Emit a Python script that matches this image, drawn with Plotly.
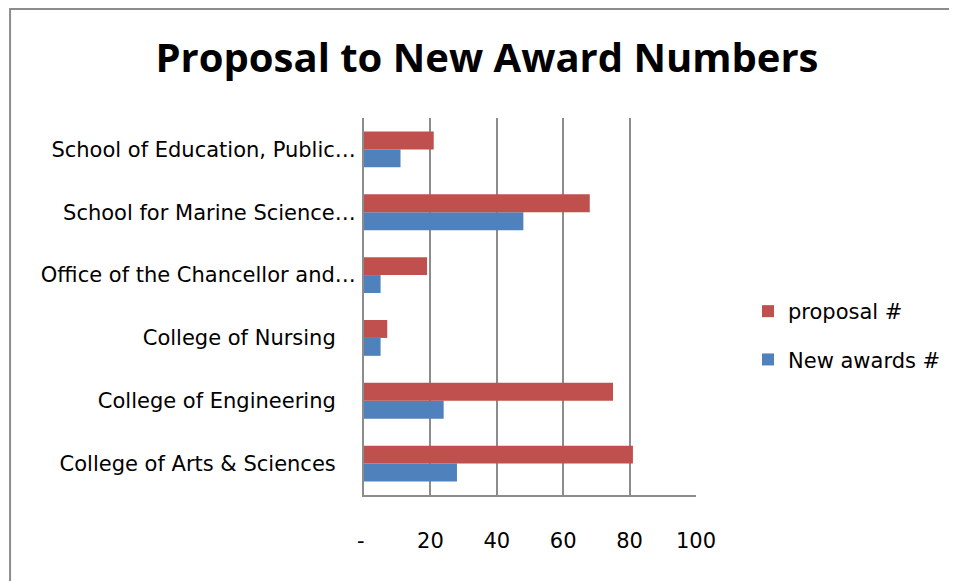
import plotly.graph_objects as go

categories = ["College of Arts & Sciences", "College of Engineering", "College of Nursing",
              "Office of the Chancellor and…", "School for Marine Science…", "School of Education, Public…"]
proposal = [81, 75, 7, 19, 68, 21]
new_awards = [28, 24, 5, 5, 48, 11]
x_tickvals = [0, 20, 40, 60, 80, 100]
x_ticktext = ["-\u00a0", "20", "40", "60", "80", "100"]

NB = "\u00a0"
truncated = {"Office of the Chancellor and…", "School for Marine Science…", "School of Education, Public…"}
y_ticktext = [c if c in truncated else c + NB * 3 for c in categories]

# page body has an 8px margin; work in figure coordinates = page - 8
OFF = 8
W, H = 957 - OFF, 581 - OFF
L, R, T, B = 364 - OFF, 697 - OFF, 118 - OFF, 495 - OFF

FONT = "DejaVu Sans"
TFONT = "Open Sans"
FS = 21

fig = go.Figure()
fig.add_trace(go.Bar(y=categories, x=new_awards, name="New awards #", orientation="h",
                     legendgroup="b", legendrank=2,
                     marker=dict(color="#4F81BD", line=dict(width=0))))
fig.add_trace(go.Bar(y=categories, x=proposal, name="proposal #", orientation="h",
                     legendgroup="a", legendrank=1,
                     marker=dict(color="#C0504D", line=dict(width=0))))

pw, ph = R - L, B - T
def px_x(p):
    return (p - OFF - L) / pw
def px_y(p):
    return (B - (p - OFF)) / ph

fig.update_layout(
    width=W, height=H,
    margin=dict(l=L, r=W - R, t=T, b=H - B),
    paper_bgcolor="white", plot_bgcolor="white",
    barmode="group", bargap=0.43, bargroupgap=0,
    font=dict(family=FONT, size=FS, color="black"),
    title=dict(text="<b>Proposal to New Award Numbers</b>", x=(487 - OFF) / W, xanchor="center",
               y=1 - (58 - OFF) / H, yanchor="middle", yref="container",
               font=dict(family=TFONT, size=40, color="black")),
    showlegend=True,
    legend=dict(x=px_x(748), y=px_y(291), xanchor="left", yanchor="top",
                traceorder="grouped", font=dict(family=FONT, size=FS),
                tracegroupgap=18, itemwidth=30, bgcolor="rgba(0,0,0,0)"),
    xaxis=dict(range=[0, 100], tickvals=x_tickvals, ticktext=x_ticktext,
               showgrid=True, gridcolor="#8C8C8C", gridwidth=2,
               showline=True, linecolor="#8C8C8C", linewidth=2,
               zeroline=False, ticks="", ticklabelstandoff=26,
               tickfont=dict(family=FONT, size=FS), fixedrange=True),
    yaxis=dict(categoryorder="array", categoryarray=categories,
               tickvals=categories, ticktext=y_ticktext,
               showgrid=False, showline=True, linecolor="#8C8C8C", linewidth=2,
               ticks="", ticklabelstandoff=2,
               tickfont=dict(family=FONT, size=FS), fixedrange=True),
    shapes=[dict(type="rect", xref="paper", yref="paper",
                 x0=px_x(OFF + 1), x1=px_x(957 + 20), y0=px_y(581 + 20), y1=px_y(OFF + 1),
                 line=dict(color="#8C8C8C", width=2), fillcolor="rgba(0,0,0,0)", layer="below")],
)

fig.write_html("out.html")
